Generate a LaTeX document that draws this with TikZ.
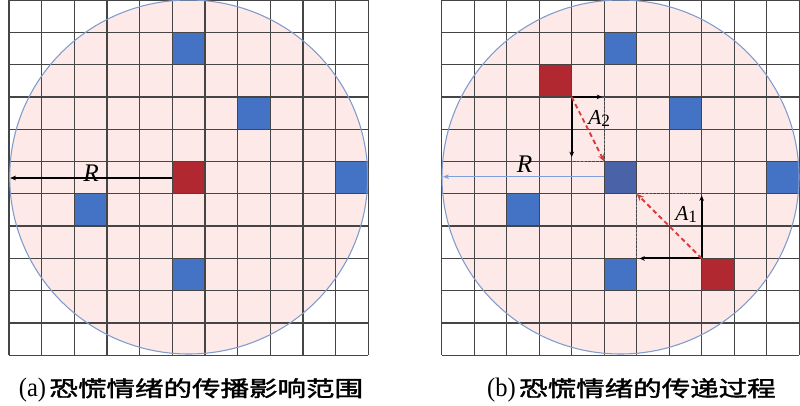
\documentclass[tikz,border=0pt]{standalone}
\usepackage{fontspec}
\setmainfont{Liberation Serif}
\newfontfamily\cjk[FakeBold=1.6]{Noto Sans CJK SC}
\usetikzlibrary{arrows.meta}
\definecolor{pinkfill}{HTML}{FDE9E8}
\definecolor{circedge}{HTML}{7F9CCB}
\definecolor{cellblue}{HTML}{4472C4}
\definecolor{cellbluedark}{HTML}{4A62A8}
\definecolor{cellred}{HTML}{B22830}
\definecolor{gridline}{HTML}{454545}
\definecolor{rline}{HTML}{7DA0DA}
\definecolor{dashred}{HTML}{D93A3A}
\newcommand\mycell[5]{\fill[#5] ({#1+#3*#2},{#4*32.3}) rectangle ++(#2,32.3);}
\newcommand\sublab[2]{{\fontsize{16pt}{17pt}\selectfont\itshape #1}\raisebox{-2pt}{\fontsize{13pt}{14pt}\selectfont #2}}
\newcommand\capt[2]{\scalebox{0.92}[1]{\fontsize{20pt}{21pt}\selectfont #1}\hspace{2.5pt}\scalebox{1.32}[1]{\cjk\fontsize{16.2pt}{17pt}\selectfont #2}}
\begin{document}
\begin{tikzpicture}[x=0.75pt,y=-0.75pt,
  gridstyle/.style={draw=gridline,line width=1pt},
  circstyle/.style={draw=circedge,line width=0.8pt},
  radline/.style={line width=1.1pt,-{Stealth[length=4.5pt,width=3.5pt]}},
  legline/.style={draw=black,line width=1.4pt,-{Stealth[length=4pt,width=3.5pt]}},
  dotline/.style={draw=gray,line width=0.9pt,dotted},
  dashline/.style={draw=dashred,line width=1.4pt,dash pattern=on 3.5pt off 2.5pt,-{Stealth[length=5.5pt,width=4.5pt]}},
  lab/.style={inner sep=0pt,anchor=base west},
  captnode/.style={inner sep=0pt,anchor=center}]
\useasboundingbox[fill=white] (0,0) rectangle (800,405);

% ---------- left panel ----------
\fill[pinkfill] (188.7,177) ellipse [x radius=179, y radius=177];
\mycell{9}{32.67}{5}{1}{cellblue}
\mycell{9}{32.67}{7}{3}{cellblue}
\mycell{9}{32.67}{10}{5}{cellblue}
\mycell{9}{32.67}{2}{6}{cellblue}
\mycell{9}{32.67}{5}{8}{cellblue}
\mycell{9}{32.67}{5}{5}{cellred}
\foreach \i in {0,...,11} \draw[gridstyle] ({9+\i*32.67},0) -- ({9+\i*32.67},355.3);
\foreach \j in {0,...,11} \draw[gridstyle] (9,{\j*32.3}) -- (368.4,{\j*32.3});
\draw[circstyle] (188.7,177) ellipse [x radius=179, y radius=177];
\coordinate (lc) at (172.35,178);
\coordinate (lend) at (10,178);
\draw[radline,draw=black] (lc) -- (lend);
\node[lab] (lR) at (83,181.5) {\fontsize{19pt}{20pt}\selectfont\itshape R};

% ---------- right panel ----------
\fill[pinkfill] (620.5,177) ellipse [x radius=178.5, y radius=177];
\mycell{441.7}{32.5}{5}{1}{cellblue}
\mycell{441.7}{32.5}{7}{3}{cellblue}
\mycell{441.7}{32.5}{10}{5}{cellblue}
\mycell{441.7}{32.5}{2}{6}{cellblue}
\mycell{441.7}{32.5}{5}{8}{cellblue}
\mycell{441.7}{32.5}{5}{5}{cellbluedark}
\mycell{441.7}{32.5}{3}{2}{cellred}
\mycell{441.7}{32.5}{8}{8}{cellred}
\foreach \i in {0,...,11} \draw[gridstyle] ({441.7+\i*32.5},0) -- ({441.7+\i*32.5},355.3);
\foreach \j in {0,...,11} \draw[gridstyle] (441.7,{\j*32.3}) -- (799.2,{\j*32.3});
\draw[circstyle] (620.5,177) ellipse [x radius=178.5, y radius=177];
\coordinate (rc) at (604.2,176.7);
\coordinate (rend) at (443,176.7);
\draw[radline,draw=rline] (rc) -- (rend);
\node[lab] (rR) at (516.5,172.5) {\fontsize{19pt}{20pt}\selectfont\itshape R};

% A2 triangle
\coordinate (P) at (571.7,96.9);
\coordinate (Q) at (604.2,161.5);
\coordinate (Ph) at (602,96.9);
\coordinate (Pv) at (571.7,157);
\coordinate (Pc) at (571.7,161.5);
\coordinate (Pr) at (604.2,96.9);
\draw[dotline] (Pr) -- (Q);
\draw[dotline] (Pc) -- (Q);
\draw[legline] (P) -- (Ph);
\draw[legline] (P) -- (Pv);
\draw[dashline] (P) -- (Q);
\node[lab] (A2) at (588,124) {\sublab{A}{2}};

% A1 triangle
\coordinate (S) at (701.7,258.4);
\coordinate (T) at (636.7,193.8);
\coordinate (Sv) at (701.7,195.5);
\coordinate (Sh) at (639.5,258.4);
\coordinate (Tr) at (701.7,193.8);
\coordinate (Tb) at (636.7,258.4);
\draw[dotline] (T) -- (Tr);
\draw[dotline] (T) -- (Tb);
\draw[legline] (S) -- (Sv);
\draw[legline] (S) -- (Sh);
\draw[dashline] (S) -- (T);
\node[lab] (A1) at (675,220) {\sublab{A}{1}};

% captions
\node[captnode] (capa) at (191,390) {\capt{(a)}{恐慌情绪的传播影响范围}};
\node[captnode] (capb) at (631.5,390) {\capt{(b)}{恐慌情绪的传递过程}};
\end{tikzpicture}
\end{document}
